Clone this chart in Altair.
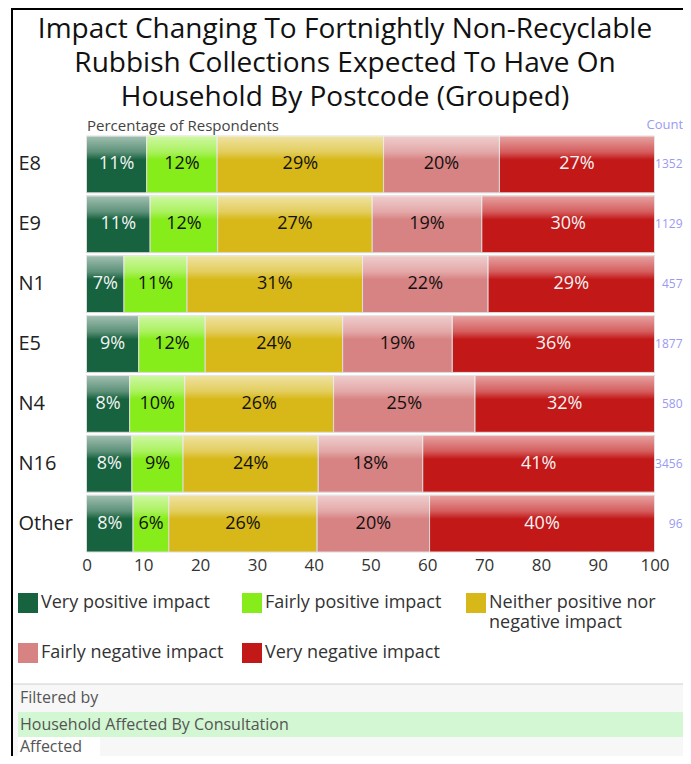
import altair as alt
import pandas as pd

FONT = "Open Sans"

postcodes = ["E8", "E9", "N1", "E5", "N4", "N16", "Other"]
counts = [1352, 1129, 457, 1877, 580, 3456, 96]
categories = [
    "Very positive impact",
    "Fairly positive impact",
    "Neither positive nor negative impact",
    "Fairly negative impact",
    "Very negative impact",
]
very_positive = [10.6, 11.2, 6.6, 9.2, 7.6, 8.0, 8.2]
fairly_positive = [12.4, 11.9, 11.1, 11.7, 9.7, 9.0, 6.3]
neither = [29.3, 27.2, 30.9, 24.2, 26.2, 23.8, 26.1]
fairly_negative = [20.4, 19.3, 22.1, 19.3, 24.9, 18.4, 19.8]
very_negative = [27.3, 30.4, 29.3, 35.6, 31.6, 40.8, 39.6]
colors = ["#17623f", "#86ec1a", "#d7b818", "#d88383", "#c31818"]
label_colors = ["#f4f4f4", "#111111", "#111111", "#111111", "#f4f4f4"]

series = [very_positive, fairly_positive, neither, fairly_negative, very_negative]
rows = []
for ci, (cat, vals) in enumerate(zip(categories, series)):
    for pc, v in zip(postcodes, vals):
        rows.append({"postcode": pc, "category": cat, "value": v,
                     "order": ci, "tc": label_colors[ci]})
df = pd.DataFrame(rows)
count_df = pd.DataFrame({"postcode": postcodes, "count": counts})

W, H = 568, 416

band_scale = alt.Scale(paddingInner=0.05, paddingOuter=0)
y_axis = alt.Axis(orient="left", labelAlign="left", labelPadding=68.5,
                  tickSize=0, ticks=False, domain=False, title=None,
                  labelFontSize=20, labelColor="#222", labelFont=FONT,
                  grid=False, labelBaseline="middle")
y_enc = alt.Y("postcode:N", sort=postcodes, scale=band_scale, axis=y_axis)
x_scale = alt.Scale(domain=[0, 100], nice=False, zero=True)

base = alt.Chart(df).transform_stack(
    stack="value", groupby=["postcode"], as_=["v0", "v1"],
    sort=[alt.SortField("order", "ascending")]
).transform_calculate(
    mid="(datum.v0 + datum.v1) / 2",
    lbl="format(datum.value, '.0f') + '%'"
)

legend_expr = ("datum.label == 'Neither positive nor negative impact' ? "
               "['Neither positive nor', 'negative impact'] : [datum.label, ' ']")

bars = base.mark_bar(stroke="#dcdcdc", strokeWidth=1).encode(
    x=alt.X("v0:Q", scale=x_scale,
            axis=alt.Axis(orient="bottom", values=list(range(0, 101, 10)),
                          labelFontSize=17, labelColor="#333", labelFont=FONT,
                          tickSize=0, ticks=False, domain=False, grid=False,
                          labelPadding=5, labelFlush=False, title=None)),
    x2="v1:Q",
    y=y_enc,
    color=alt.Color("category:N", sort=categories,
                    scale=alt.Scale(domain=categories, range=colors),
                    legend=alt.Legend(
                        orient="none", legendX=-68.5, legendY=457, columns=3,
                        direction="horizontal", symbolType="square", symbolSize=400,
                        symbolStrokeWidth=0, labelFontSize=18, labelColor="#333",
                        labelFont=FONT, labelLimit=300, columnPadding=18,
                        rowPadding=11, gridAlign="all", title=None, labelOffset=3,
                        padding=0, labelExpr=legend_expr)),
    order=alt.Order("order:Q"),
)

gloss = alt.LinearGradient(
    gradient="linear", x1=0, x2=0, y1=0, y2=1,
    stops=[
        alt.GradientStop(color="rgba(255,255,255,0.6)", offset=0),
        alt.GradientStop(color="rgba(255,255,255,0.3)", offset=0.28),
        alt.GradientStop(color="rgba(255,255,255,0)", offset=0.42),
        alt.GradientStop(color="rgba(255,255,255,0)", offset=1),
    ])

overlay = base.mark_bar(fill=gloss, strokeWidth=0).encode(
    x=alt.X("v0:Q", scale=x_scale, axis=None),
    x2="v1:Q",
    y=y_enc,
)

labels = base.mark_text(fontSize=18, font=FONT, baseline="middle", align="center").encode(
    x=alt.X("mid:Q", scale=x_scale,
            axis=alt.Axis(orient="top", labels=False, ticks=False, domain=False,
                          grid=False, title="Percentage of Respondents",
                          titleAnchor="start", titleAlign="left", titleX=0,
                          titleY=-3, titleBaseline="bottom", titleFontSize=15,
                          titleFontWeight="normal", titleColor="#444",
                          titleFont=FONT)),
    y=y_enc,
    text="lbl:N",
    color=alt.Color("tc:N", scale=None),
)

count_text = alt.Chart(count_df).mark_text(
    fontSize=12, font=FONT, align="right", baseline="middle", color="#9a9af2"
).encode(
    x=alt.value(596),
    y=y_enc,
    text="count:N",
)


def one(text_value):
    return alt.Chart(pd.DataFrame({"t": [text_value]}))


count_head = one("Count").mark_text(
    fontSize=13, font=FONT, align="left", baseline="middle", color="#9a9af2"
).encode(x=alt.value(560), y=alt.value(-11), text="t:N")

# frame
frame_left = one("").mark_rule(color="#000", strokeWidth=2).encode(
    x=alt.value(-74.5), y=alt.value(-128), y2=alt.value(640))
frame_top = one("").mark_rule(color="#000", strokeWidth=2).encode(
    x=alt.value(-75.5), x2=alt.value(640), y=alt.value(-127))

# filter box
filter_bg = one("").mark_rect(fill="#f7f7f7").encode(
    x=alt.value(-73.5), x2=alt.value(640), y=alt.value(548), y2=alt.value(640))
filter_line = one("").mark_rule(color="#d0d0d0", strokeWidth=1).encode(
    x=alt.value(-73.5), x2=alt.value(640), y=alt.value(548))
green_band = one("").mark_rect(fill="#d2f7d2").encode(
    x=alt.value(-68.5), x2=alt.value(640), y=alt.value(576), y2=alt.value(601))
white_box = one("").mark_rect(fill="#ffffff").encode(
    x=alt.value(-68.5), x2=alt.value(13.5), y=alt.value(601), y2=alt.value(624))

ftxt = dict(fontSize=16, font=FONT, align="left", baseline="middle", color="#555")
filtered_by = one("Filtered by").mark_text(**ftxt).encode(
    x=alt.value(-66.5), y=alt.value(562), text="t:N")
filter_name = one("Household Affected By Consultation").mark_text(**ftxt).encode(
    x=alt.value(-66.5), y=alt.value(588.5), text="t:N")
filter_value = one("Affected").mark_text(**ftxt).encode(
    x=alt.value(-66.5), y=alt.value(611), text="t:N")

chart = alt.layer(
    filter_bg, filter_line, green_band, white_box,
    filtered_by, filter_name, filter_value,
    bars, overlay, labels, count_text, count_head, frame_left, frame_top,
).properties(
    width=W, height=H,
    autosize=alt.AutoSizeParams(type="none"),
    padding={"left": 78.5, "top": 128, "right": 28.5, "bottom": 204},
    title=alt.TitleParams(
        text=["Impact Changing To Fortnightly Non-Recyclable",
              "Rubbish Collections Expected To Have On",
              "Household By Postcode (Grouped)"],
        fontSize=28, font=FONT, fontWeight="normal", color="#111",
        lineHeight=34, anchor="middle", dx=-25.5, dy=113, offset=8),
).configure_view(strokeWidth=0)

chart.save("out.html", embed_options={"renderer": "svg", "actions": False})
